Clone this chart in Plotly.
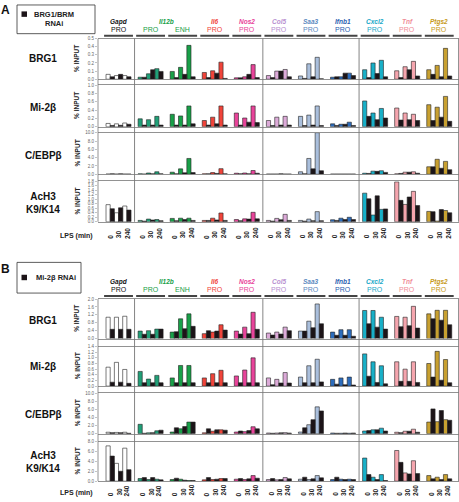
import plotly.graph_objects as go

W, H = 459, 502
FONT = "Liberation Sans, Arial, sans-serif"

# ---------------- data ----------------
gene_names = ["Gapd", "Il12b", "", "Il6", "Nos2", "Col5", "Saa3", "Ifnb1", "Cxcl2", "Tnf", "Ptgs2"]
region_labels = ["PRO", "PRO", "ENH", "PRO", "PRO", "PRO", "PRO", "PRO", "PRO", "PRO", "PRO"]
time_labels = ["0", "30", "240"]
row_labels = ["BRG1", "Mi-2β", "C/EBPβ", "AcH3<br>K9/K14"]

# each group: [ctrl 0, RNAi 0, ctrl 30, RNAi 30, ctrl 240, RNAi 240]
A_BRG1 = [
    [0.06, 0.03, 0.045, 0.06, 0.045, 0.03],
    [0.025, 0.025, 0.067, 0.117, 0.13, 0.096],
    [0.096, 0.02, 0.146, 0.06, 0.417, 0.03],
    [0.083, 0.02, 0.104, 0.075, 0.21, 0.01],
    [0.017, 0.017, 0.03, 0.06, 0.18, 0.02],
    [0.045, 0.02, 0.10, 0.10, 0.12, 0.03],
    [0.04, 0.01, 0.19, 0.03, 0.27, 0.005],
    [0.025, 0.03, 0.03, 0.075, 0.075, 0.045],
    [0.117, 0.02, 0.20, 0.07, 0.233, 0.03],
    [0.104, 0.02, 0.154, 0.117, 0.22, 0.04],
    [0.117, 0.06, 0.17, 0.03, 0.38, 0.04],
]
A_MI2B = [
    [0.08, 0.03, 0.07, 0.035, 0.09, 0.06],
    [0.19, 0.04, 0.17, 0.04, 0.25, 0.04],
    [0.30, 0.04, 0.26, 0.04, 0.50, 0.07],
    [0.15, 0.04, 0.23, 0.07, 0.50, 0.04],
    [0.33, 0.04, 0.21, 0.11, 0.50, 0.10],
    [0.15, 0.03, 0.23, 0.04, 0.25, 0.04],
    [0.25, 0.03, 0.28, 0.04, 0.50, 0.03],
    [0.07, 0.03, 0.06, 0.06, 0.11, 0.03],
    [0.62, 0.25, 0.33, 0.17, 0.44, 0.21],
    [0.45, 0.16, 0.33, 0.17, 0.30, 0.15],
    [0.53, 0.15, 0.47, 0.23, 0.73, 0.13],
]
A_CEBPB = [
    [0.05, 0.1, 0.05, 0.1, 0.05, 0.05],
    [0.1, 0.05, 0.3, 0.1, 0.6, 0.1],
    [0.5, 0.1, 1.3, 0.35, 3.8, 0.4],
    [0.1, 0.1, 0.4, 0.2, 1.35, 0.1],
    [0.25, 0.1, 0.3, 0.1, 0.9, 0.25],
    [0.05, 0.05, 0.05, 0.1, 0.05, 0.05],
    [0.6, 0.1, 3.8, 1.3, 10.0, 0.85],
    [0.05, 0.05, 0.05, 0.05, 0.05, 0.05],
    [0.25, 0.2, 0.75, 0.7, 0.85, 0.45],
    [0.1, 0.2, 0.5, 0.5, 0.6, 0.25],
    [1.8, 1.8, 3.6, 1.45, 3.1, 1.1],
]
A_ACH3 = [
    [0.76, 0.58, 0.40, 0.62, 0.70, 0.52],
    [0.06, 0.03, 0.12, 0.08, 0.10, 0.05],
    [0.15, 0.05, 0.16, 0.10, 0.16, 0.06],
    [0.06, 0.06, 0.16, 0.08, 0.39, 0.06],
    [0.10, 0.05, 0.13, 0.12, 0.42, 0.13],
    [0.06, 0.03, 0.15, 0.09, 0.33, 0.06],
    [0.06, 0.03, 0.12, 0.05, 0.45, 0.05],
    [0.09, 0.06, 0.16, 0.10, 0.20, 0.10],
    [1.27, 1.02, 0.30, 1.15, 0.55, 0.57],
    [1.77, 0.95, 0.77, 1.10, 1.35, 0.72],
    [0.46, 0.45, 0.03, 0.54, 0.50, 0.40],
]
B_BRG1 = [
    [1.08, 0.47, 1.08, 0.47, 1.13, 0.47],
    [0.38, 0.22, 0.40, 0.22, 0.48, 0.48],
    [0.33, 0.35, 1.00, 0.50, 1.25, 0.62],
    [0.25, 0.40, 0.33, 0.38, 0.70, 0.43],
    [0.38, 0.23, 0.58, 0.25, 1.33, 0.47],
    [0.28, 0.18, 0.33, 0.23, 0.58, 0.40],
    [0.38, 0.38, 0.88, 0.55, 1.75, 0.75],
    [0.33, 0.17, 0.45, 0.17, 0.45, 0.12],
    [1.42, 0.75, 1.42, 0.58, 1.08, 0.48],
    [1.12, 0.60, 1.08, 0.65, 1.63, 0.53],
    [1.25, 1.00, 1.43, 0.93, 1.43, 0.70],
]
B_MI2B = [
    [0.67, 0.14, 0.84, 0.14, 0.59, 0.10],
    [0.52, 0.12, 0.25, 0.12, 0.38, 0.12],
    [0.29, 0.12, 0.73, 0.12, 0.73, 0.12],
    [0.29, 0.12, 0.44, 0.12, 0.56, 0.12],
    [0.36, 0.12, 0.57, 0.12, 1.00, 0.12],
    [0.29, 0.05, 0.24, 0.11, 0.48, 0.11],
    [0.32, 0.12, 0.72, 0.12, 0.95, 0.15],
    [0.24, 0.07, 0.29, 0.05, 0.32, 0.04],
    [1.14, 0.35, 0.86, 0.13, 0.72, 0.08],
    [0.86, 0.17, 0.60, 0.17, 0.86, 0.13],
    [0.80, 0.32, 1.23, 0.21, 0.94, 0.12],
]
B_CEBPB = [
    [0.35, 0.25, 0.3, 0.25, 0.35, 0.1],
    [2.3, 0.1, 0.2, 0.25, 0.7, 0.85],
    [0.4, 1.45, 1.2, 1.75, 2.85, 2.85],
    [0.2, 1.2, 0.6, 0.95, 0.95, 0.85],
    [0.4, 0.65, 0.5, 0.75, 1.7, 1.2],
    [0.15, 0.1, 0.15, 0.2, 0.25, 0.15],
    [0.4, 1.45, 2.2, 3.45, 6.6, 5.6],
    [0.15, 0.1, 0.1, 0.15, 0.1, 0.15],
    [0.65, 0.75, 0.95, 0.95, 1.35, 0.65],
    [0.35, 0.25, 0.6, 0.6, 1.1, 0.35],
    [2.85, 6.1, 2.95, 5.7, 3.45, 3.3],
]
B_ACH3 = [
    [7.13, 5.07, 3.6, 2.0, 6.67, 2.33],
    [0.53, 0.73, 0.33, 0.73, 0.4, 0.27],
    [0.33, 0.6, 0.4, 0.2, 0.13, 0.13],
    [0.27, 0.73, 0.33, 0.4, 0.53, 0.53],
    [0.4, 0.53, 0.33, 0.47, 1.13, 0.6],
    [0.33, 0.53, 0.27, 0.33, 0.73, 0.47],
    [0.4, 0.8, 0.33, 0.47, 1.13, 0.67],
    [0.33, 0.8, 0.4, 0.33, 0.4, 0.33],
    [4.67, 1.33, 0.8, 0.33, 1.33, 0.13],
    [6.2, 3.8, 1.67, 1.47, 4.13, 1.53],
    [1.13, 0.47, 0.8, 0.33, 1.33, 0.47],
]

A_BRG1_TICKS = [0.0, 0.1, 0.2, 0.3, 0.4, 0.5]
A_MI2B_TICKS = [0.0, 0.2, 0.4, 0.6, 0.8, 1.0]
A_CEBPB_TICKS = [0.0, 2.0, 4.0, 6.0, 8.0, 10.0]
A_ACH3_TICKS = [0.0, 0.2, 0.4, 0.6, 0.8, 1.0, 1.2, 1.4, 1.6, 1.8]
B_BRG1_TICKS = [0.0, 0.4, 0.8, 1.2, 1.6, 2.0]
B_MI2B_TICKS = [0.0, 0.2, 0.4, 0.6, 0.8, 1.0, 1.2, 1.4]
B_CEBPB_TICKS = [0.0, 2.0, 4.0, 6.0, 8.0, 10.0]
B_ACH3_TICKS = [0.0, 2.0, 4.0, 6.0, 8.0]

# ---------------- style ----------------
ctrl_colors = ["#ffffff", "#20a078", "#18a048", "#f0443a", "#e8449a", "#dcaad8",
               "#aabfdc", "#2c6cbc", "#18b0c8", "#f5a5ae", "#c8a030"]
name_colors = ["#111111", "#18a048", "#18a048", "#f0443a", "#e8449a", "#b890d0",
               "#5a88c0", "#2860b0", "#20a8c8", "#f08c98", "#c89a20"]
region_colors = ["#111111", "#18a048", "#18a048", "#f0443a", "#e8449a", "#b890d0",
                 "#5a88c0", "#2860b0", "#20a8c8", "#f08c98", "#c89a20"]
RNAI = "#1c1418"

def px(x):
    return x / W

def py(y):
    return 1 - y / H

rows = [
    (A_BRG1, A_BRG1_TICKS, 37, 78),
    (A_MI2B, A_MI2B_TICKS, 84, 126),
    (A_CEBPB, A_CEBPB_TICKS, 132, 174),
    (A_ACH3, A_ACH3_TICKS, 181, 222),
    (B_BRG1, B_BRG1_TICKS, 300, 340),
    (B_MI2B, B_MI2B_TICKS, 348, 388),
    (B_CEBPB, B_CEBPB_TICKS, 395, 436),
    (B_ACH3, B_ACH3_TICKS, 444, 484),
]

XL, XR = 98, 458.5
XRANGE = [-0.64, 10.6]
BW = 0.13
ctrl_off = [-0.325, -0.065, 0.195]
rnai_off = [-0.195, 0.065, 0.325]

fig = go.Figure()
layout = dict(width=W, height=H, margin=dict(l=0, r=0, t=0, b=0),
              paper_bgcolor="white", plot_bgcolor="white", showlegend=False,
              bargap=0, barmode="overlay", font=dict(family=FONT))

n = len(gene_names)
for k, (vals, ticks, top, bot) in enumerate(rows):
    ax = "" if k == 0 else str(k + 1)
    cx, cy, cc, rx, ry = [], [], [], [], []
    for i in range(n):
        for j in range(3):
            cx.append(i + ctrl_off[j]); cy.append(vals[i][2 * j]); cc.append(ctrl_colors[i])
            rx.append(i + rnai_off[j]); ry.append(vals[i][2 * j + 1])
    fig.add_trace(go.Bar(x=cx, y=cy, width=BW, marker=dict(color=cc, line=dict(color="#222", width=0.6)),
                         xaxis="x" + ax, yaxis="y" + ax, hoverinfo="skip"))
    fig.add_trace(go.Bar(x=rx, y=ry, width=BW, marker=dict(color=RNAI, line=dict(color="#222", width=0.6)),
                         xaxis="x" + ax, yaxis="y" + ax, hoverinfo="skip"))
    layout["xaxis" + ax] = dict(domain=[px(XL), px(XR)], range=XRANGE, anchor="y" + ax,
                                showticklabels=False, showgrid=False, zeroline=False,
                                showline=True, mirror=True, linecolor="#777", linewidth=0.8, ticks="")
    layout["yaxis" + ax] = dict(domain=[py(bot), py(top)], range=[0, ticks[-1]], anchor="x" + ax,
                                tickvals=ticks, ticktext=["%.1f" % t for t in ticks],
                                tickfont=dict(size=4.5, color="#666", family=FONT),
                                ticks="outside", ticklen=2, tickcolor="#888", tickwidth=0.5,
                                showgrid=False, zeroline=False, showline=False)

shapes = []
annotations = []

def ann(x, y, text, size, color="#222", xref="paper", xanchor="center", yanchor="middle", angle=0):
    annotations.append(dict(x=x, y=y, xref=xref, yref="paper", text=text, showarrow=False,
                            xanchor=xanchor, yanchor=yanchor, textangle=angle,
                            font=dict(size=size, color=color, family=FONT)))

for (ptop, pbot, hdr_name, hdr_reg, hdr_line, lps_y) in [(37, 222, 20, 27.5, 34, 241), (300, 484, 282.5, 290, 297, 501)]:
    for xv in [XL, XR]:
        shapes.append(dict(type="line", xref="paper", yref="paper", x0=px(xv), x1=px(xv),
                           y0=py(ptop), y1=py(pbot), line=dict(color="#777", width=0.8)))
    for sx in [0.5, 4.5, 7.5]:
        shapes.append(dict(type="line", xref="x", yref="paper", x0=sx, x1=sx,
                           y0=py(ptop), y1=py(pbot), line=dict(color="#777", width=0.9)))
    for i in range(n):
        shapes.append(dict(type="line", xref="x", yref="paper", x0=i - 0.45, x1=i + 0.45,
                           y0=py(hdr_line), y1=py(hdr_line), line=dict(color="#444", width=2)))
        ann(i, py(hdr_reg), region_labels[i], 7, region_colors[i], xref="x")
        if gene_names[i]:
            gx = 1.5 if gene_names[i] == "Il12b" else i
            ann(gx, py(hdr_name), "<i><b>%s</b></i>" % gene_names[i], 6.5, name_colors[i], xref="x")
        for j, t in enumerate(time_labels):
            ann(i + (j - 1) * 0.26, py(lps_y), "<b>%s</b>" % t, 6.5, "#222", xref="x",
                yanchor="bottom", angle=-90)
    ann(px(95), py(lps_y - 5), "<b>LPS (min)</b>", 7, "#222", xanchor="right")

row_label_y = [[57, 107, 155, 203], [322, 368, 417, 465]]
for p in range(2):
    for r in range(4):
        _, _, top, bot = rows[p * 4 + r]
        ann(px(43), py(row_label_y[p][r]), "<b>%s</b>" % row_labels[r], 10, "#111")
        ann(px(77), py((top + bot) / 2), "<b>% INPUT</b>", 6.5, "#222", angle=-90)

ann(px(5), py(8), "<b>A</b>", 12, "#111")
ann(px(5), py(270), "<b>B</b>", 12, "#111")
shapes.append(dict(type="rect", xref="paper", yref="paper", x0=px(17), x1=px(95), y0=py(32), y1=py(3),
                   line=dict(color="#333", width=0.8), fillcolor="rgba(0,0,0,0)"))
shapes.append(dict(type="rect", xref="paper", yref="paper", x0=px(21.5), x1=px(27), y0=py(15), y1=py(9.5),
                   line=dict(color=RNAI, width=0), fillcolor=RNAI))
ann(px(54), py(12.5), "<b>BRG1/BRM</b>", 7.5)
ann(px(54), py(21.5), "<b>RNAi</b>", 7.5)
shapes.append(dict(type="rect", xref="paper", yref="paper", x0=px(17), x1=px(81), y0=py(294), y1=py(263),
                   line=dict(color="#333", width=0.8), fillcolor="rgba(0,0,0,0)"))
shapes.append(dict(type="rect", xref="paper", yref="paper", x0=px(21.5), x1=px(27), y0=py(281), y1=py(275.5),
                   line=dict(color=RNAI, width=0), fillcolor=RNAI))
ann(px(34), py(278), "<b>Mi-2β RNAi</b>", 7.5, xanchor="left")

layout["shapes"] = shapes
layout["annotations"] = annotations
fig.update_layout(**layout)
fig.write_html("out.html", config={"displayModeBar": False, "staticPlot": True},
               post_script="document.body.style.margin='0';document.body.style.overflow='hidden';")
